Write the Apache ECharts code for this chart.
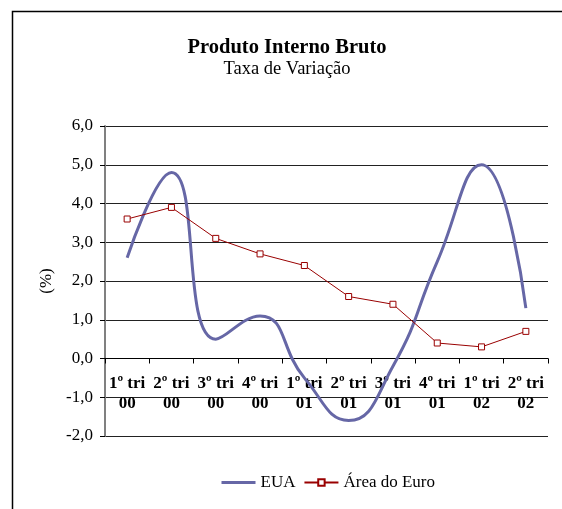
<!DOCTYPE html>
<html>
<head>
<meta charset="utf-8">
<script src="https://cdn.jsdelivr.net/npm/echarts@6/dist/echarts.min.js"></script>
<style>
    html, body { margin: 0; padding: 0; background: #fff; }
    #chart { width: 562px; height: 509px; }
</style>
</head>
<body>
<div id="chart"></div>
<script>
var quarters = ["1º tri\n00", "2º tri\n00", "3º tri\n00", "4º tri\n00", "1º tri\n01",
    "2º tri\n01", "3º tri\n01", "4º tri\n01", "1º tri\n02", "2º tri\n02"];
var euaValues = [2.6, 4.8, 0.5, 1.1, -0.5, -1.6, -0.2, 2.5, 5.0, 1.3];
var euroValues = [3.6, 3.9, 3.1, 2.7, 2.4, 1.6, 1.4, 0.4, 0.3, 0.7];

var serif = "'Liberation Serif', 'Times New Roman', serif";

var chart = echarts.init(document.getElementById("chart"));
chart.setOption({
    animation: false,
    textStyle: { fontFamily: serif },
    graphic: [{
        type: "rect",
        left: 10,
        top: 9,
        shape: { width: 600, height: 600 },
        style: { fill: "none", stroke: "#000", lineWidth: 1.5 }
    }],
    title: {
        text: "Produto Interno Bruto",
        subtext: "Taxa de Variação",
        left: 282,
        textAlign: "center",
        top: 32,
        itemGap: 2,
        textStyle: { fontFamily: serif, fontSize: 20.5, fontWeight: "bold", color: "#000" },
        subtextStyle: { fontFamily: serif, fontSize: 18.5, color: "#000" }
    },
    legend: {
        top: 469,
        left: 215,
        itemWidth: 34,
        itemHeight: 8,
        itemGap: 8,
        textStyle: { fontFamily: serif, fontSize: 17, color: "#000" },
        data: [
            { name: "EUA", itemStyle: { opacity: 0 }, lineStyle: { width: 3 } },
            { name: "Área do Euro" }
        ]
    },
    grid: { left: 105, right: 14, top: 126, bottom: 73 },
    xAxis: {
        type: "category",
        data: quarters,
        axisLine: { onZero: true, lineStyle: { color: "#000", width: 1 } },
        axisTick: { show: true, length: 5, lineStyle: { color: "#000" } },
        axisLabel: {
            interval: 0,
            margin: -62,
            fontFamily: serif,
            fontSize: 17,
            fontWeight: "bold",
            lineHeight: 20,
            color: "#000"
        }
    },
    yAxis: {
        type: "value",
        min: -2,
        max: 6,
        interval: 1,
        name: "(%)",
        nameLocation: "middle",
        nameGap: 48,
        nameRotate: 90,
        nameTextStyle: { fontFamily: serif, fontSize: 17, color: "#000" },
        axisLine: { show: true, lineStyle: { color: "#808080", width: 2 } },
        axisTick: { show: true, length: 5, lineStyle: { color: "#000" } },
        axisLabel: {
            margin: 12,
            fontFamily: serif,
            fontSize: 17,
            color: "#000",
            formatter: function (v) { return v.toFixed(1).replace(".", ","); }
        },
        splitLine: { lineStyle: { color: "#222", width: 1 } }
    },
    series: [{
        name: "EUA",
        type: "line",
        data: euaValues,
        smooth: 0.5,
        symbol: "none",
        lineStyle: { color: "#6667a6", width: 3 },
        itemStyle: { color: "#6667a6" }
    }, {
        name: "Área do Euro",
        type: "line",
        data: euroValues,
        symbol: "rect",
        symbolSize: 6,
        lineStyle: { color: "#990000", width: 1 },
        itemStyle: { color: "#fff", borderColor: "#990000", borderWidth: 1 }
    }]
});
</script>
</body>
</html>
